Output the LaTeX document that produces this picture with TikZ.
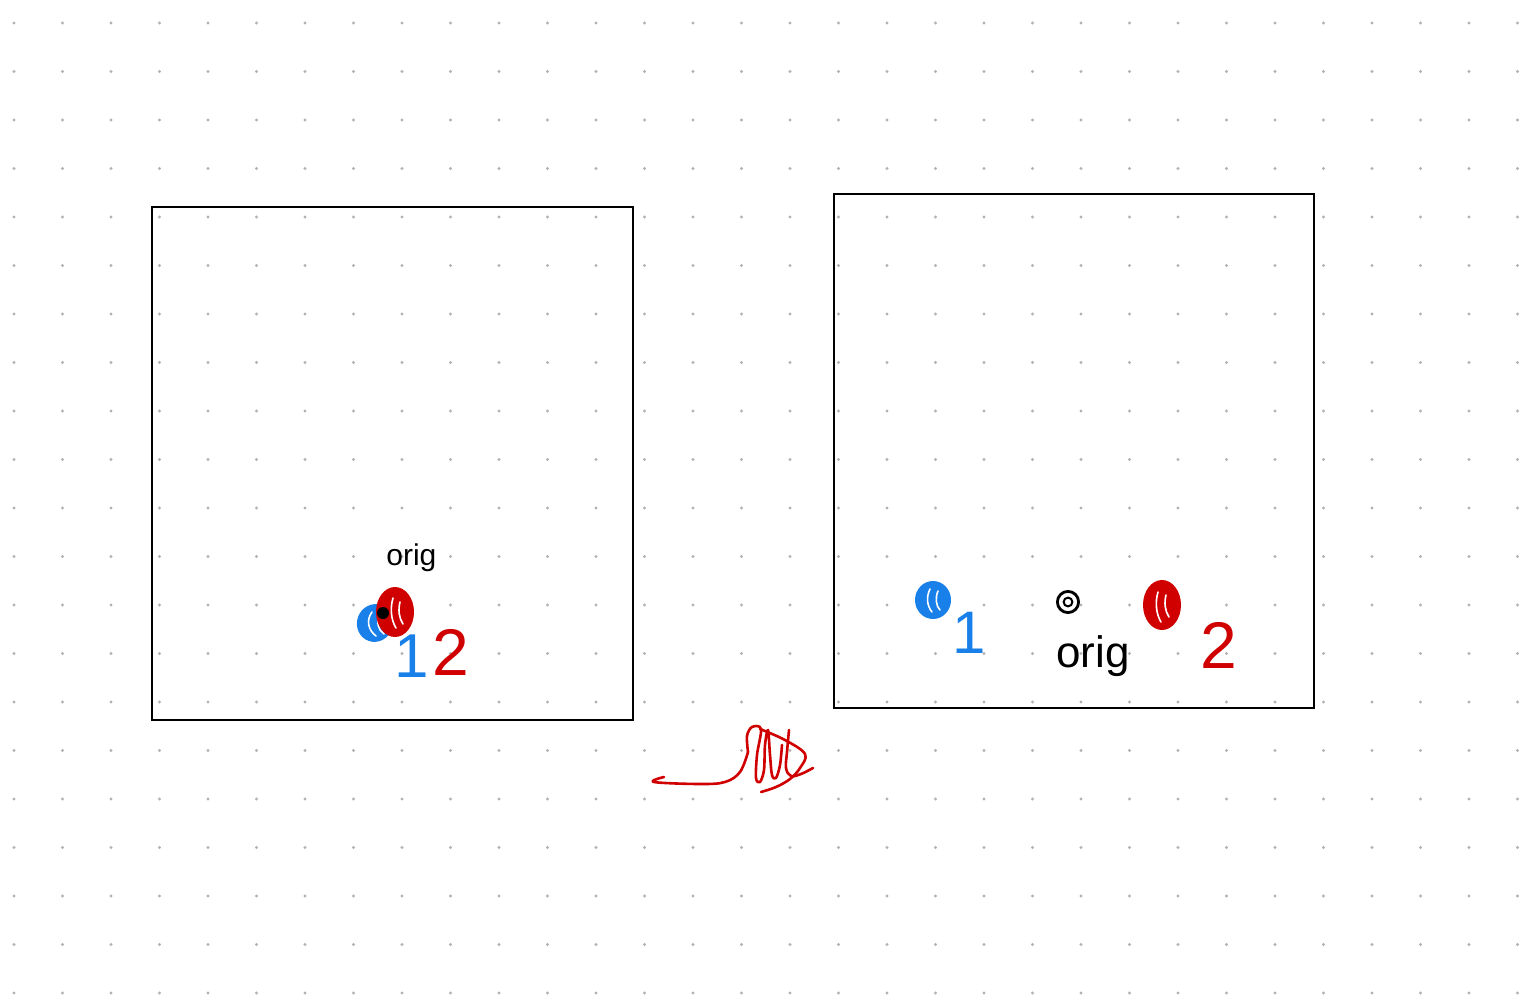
\documentclass[tikz,border=0pt]{standalone}
\usepackage{fontspec}
\setmainfont{Liberation Sans}
\definecolor{inkred}{RGB}{208,0,0}
\definecolor{inkblue}{RGB}{24,128,232}
\definecolor{dotgray}{RGB}{178,178,178}
\begin{document}
\begin{tikzpicture}[x=0.5pt,y=-0.5pt,
  frame/.style={draw=black,line width=1pt},
  streak/.style={draw=white,line width=0.8pt,line cap=round},
  scrib/.style={draw=inkred,line width=1.3pt,line cap=round,line join=round},
  lbl/.style={inner sep=0pt,anchor=base},
  hand/.style={inner sep=0pt,anchor=base west}]
\useasboundingbox (0,0) rectangle (1531,1000);
\fill[white] (0,0) rectangle (1531,1000);
% dot grid
\foreach \i in {0,...,31}{
  \foreach \j in {0,...,20}{
    \fill[dotgray] ({14+48.5*\i},{23+48.5*\j}) circle (0.85pt);
  }
}
% frames
\draw[frame] (152,207) rectangle (633,720);
\draw[frame] (834,194) rectangle (1314,708);

% ---------- left cluster ----------
\fill[inkblue,rotate around={-20:(375,623)}] (375,623) ellipse [x radius=9pt,y radius=9.5pt];
\draw[streak] (372,612) .. controls (366,620) and (368,630) .. (376,636);
\draw[streak] (380,614) .. controls (376,622) and (378,630) .. (384,634);
\fill[inkred] (395,612) ellipse [x radius=9.5pt,y radius=12.5pt];
\draw[streak] (393,598) .. controls (390,608) and (391,620) .. (396,628);
\draw[streak] (400,602) .. controls (398,610) and (399,618) .. (403,624);
\fill[black] (383,613) circle (3pt);
\node[hand] (origL) at (386,565) {\fontsize{15}{15}\selectfont orig};
\node[lbl,text=inkblue] (oneL) at (412,677) {\fontsize{31}{31}\selectfont 1};
\node[lbl,text=inkred] (twoL) at (451,675) {\fontsize{33}{33}\selectfont 2};

% ---------- right cluster ----------
\fill[inkblue] (933,600) ellipse [x radius=9pt,y radius=9.5pt];
\draw[streak] (930,589) .. controls (926,597) and (927,606) .. (932,612);
\draw[streak] (938,591) .. controls (935,598) and (936,606) .. (940,610);
\draw[black,line width=1.4pt] (1068,602) circle (5.3pt);
\draw[black,line width=1pt] (1068,602) circle (2.2pt);
\fill[inkred] (1162,605) ellipse [x radius=9.5pt,y radius=12.5pt];
\draw[streak] (1158,592) .. controls (1155,602) and (1156,614) .. (1161,622);
\draw[streak] (1166,595) .. controls (1164,603) and (1165,611) .. (1169,617);
\node[hand] (origR) at (1056,667) {\fontsize{22}{22}\selectfont orig};
\node[lbl,text=inkblue] (oneR) at (969,653) {\fontsize{30}{30}\selectfont 1};
\node[lbl,text=inkred] (twoR) at (1219,668) {\fontsize{33}{33}\selectfont 2};

% ---------- red scribble ----------
\draw[scrib] plot[smooth,tension=0.6] coordinates {(664,777) (654,782) (700,784) (725,782) (740,772) (748,752)};
\draw[scrib] plot[smooth,tension=0.55] coordinates {(748,752) (747,736) (752,727) (761,729) (757,755) (756,778) (760,782) (764,770) (765,745) (768,730) (770,755) (772,775) (776,778) (780,765) (782,745)};
\draw[scrib] plot[smooth,tension=0.6] coordinates {(760,729) (785,740) (805,754) (800,768) (790,779) (776,787) (761,792)};
\draw[scrib] plot[smooth,tension=0.6] coordinates {(789,730) (787,752) (786,768) (791,776) (801,774) (813,768)};
\end{tikzpicture}
\end{document}
